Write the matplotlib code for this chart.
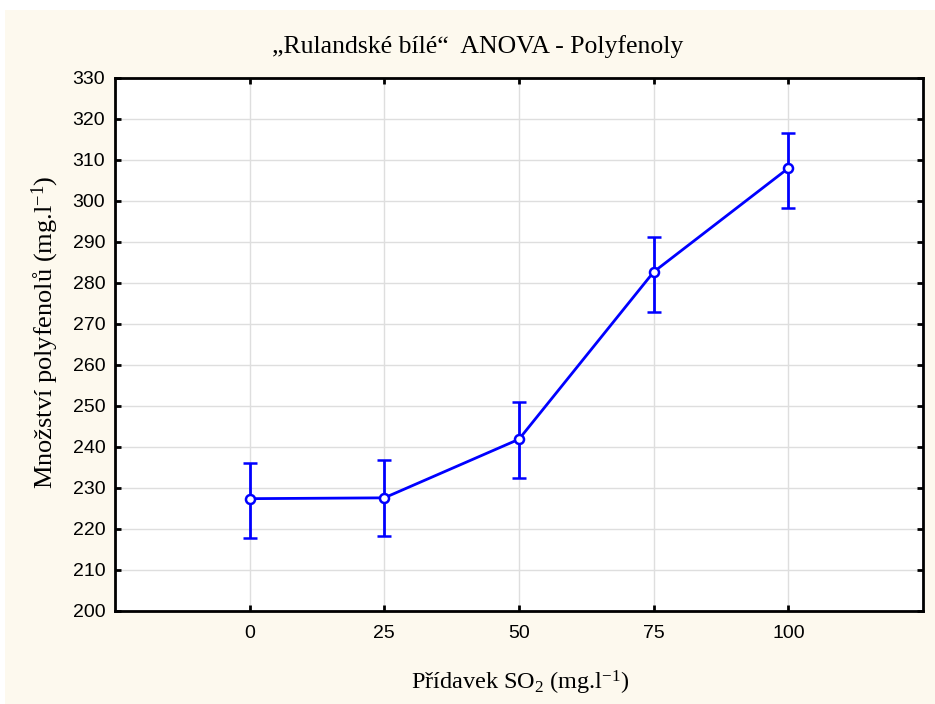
import matplotlib as mpl
mpl.use("Agg")
import matplotlib.pyplot as plt
from matplotlib.patches import Rectangle

mpl.rcParams['mathtext.fontset'] = 'custom'
mpl.rcParams['mathtext.rm'] = 'Liberation Serif'
mpl.rcParams['mathtext.it'] = 'Liberation Serif:italic'

# data
so2 = [0, 25, 50, 75, 100]
means = [227.4, 227.6, 241.9, 282.7, 308.0]
lower = [217.7, 218.3, 232.4, 273.0, 298.3]
upper = [236.2, 236.8, 250.9, 291.3, 316.6]
yticks = list(range(200, 331, 10))

title = "\u201eRulandsk\u00e9 b\u00edl\u00e9\u201c  ANOVA - Polyfenoly"
xlabel = "P\u0159\u00eddavek SO$\\mathregular{_2}$ (mg.l$\\mathregular{^{-1}}$)"
ylabel = "Mno\u017estv\u00ed polyfenol\u016f (mg.l$\\mathregular{^{-1}}$)"

cream = "#fdf9ee"
blue = "#0000ff"

fig = plt.figure(figsize=(9.35, 7.04), dpi=100, facecolor="white")
fig.patches.append(Rectangle((5 / 935, 0), 1, 1 - 10 / 704, transform=fig.transFigure,
                             facecolor=cream, edgecolor="none", zorder=-10))

ax = fig.add_axes([115 / 935, 1 - 611 / 704, (923 - 115) / 935, (611 - 78) / 704])
ax.set_facecolor("white")

yerr = [[m - lo for m, lo in zip(means, lower)], [up - m for m, up in zip(means, upper)]]
ax.errorbar(so2, means, yerr=yerr, color=blue, lw=2, elinewidth=2, capsize=5, capthick=2,
            marker="o", markersize=6.5, markerfacecolor="white", markeredgecolor=blue,
            markeredgewidth=1.8, zorder=3)

ax.set_xlim(-25, 125)
ax.set_ylim(200, 330)
ax.set_xticks(so2)
ax.set_yticks(yticks)
ax.grid(True, color="#dedede", lw=1, zorder=0)
ax.set_axisbelow(True)

for s in ax.spines.values():
    s.set_linewidth(2)
    s.set_color("black")

ax.tick_params(direction="in", length=4, width=2, top=True, right=True,
               labelsize=14, colors="black")
ax.tick_params(axis="x", pad=10)
ax.tick_params(axis="y", pad=7)
for lab in ax.get_xticklabels() + ax.get_yticklabels():
    lab.set_family("Liberation Sans")

fig.text(478 / 935, 1 - 47 / 704, title, ha="center", va="center",
         family="Liberation Serif", fontsize=18.5)
fig.text(520 / 935, 1 - 683 / 704, xlabel, ha="center", va="center",
         family="Liberation Serif", fontsize=17.5)
fig.text(45 / 935, 1 - 332 / 704, ylabel, ha="center", va="center", rotation=90,
         family="Liberation Serif", fontsize=19)

fig.savefig("out.png", dpi=100, facecolor=fig.get_facecolor())
